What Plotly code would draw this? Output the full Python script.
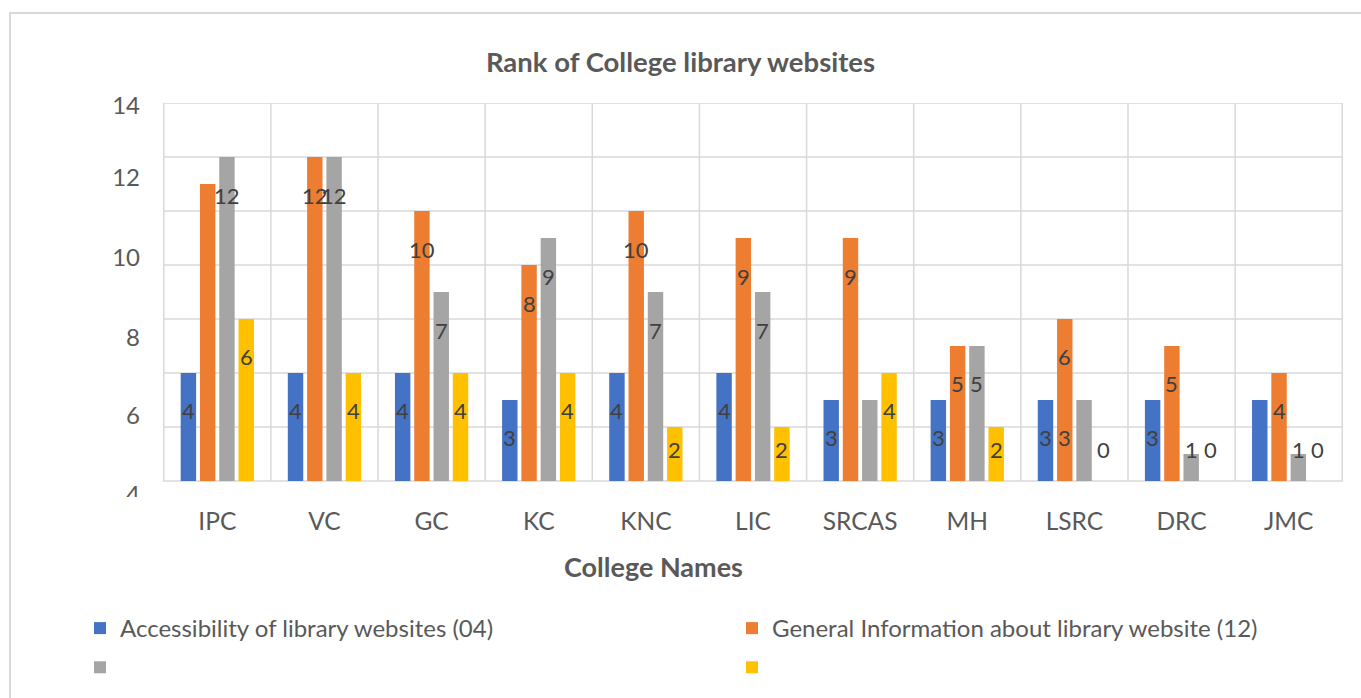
import plotly.graph_objects as go

# ---------------- data ----------------
colleges = ["IPC", "VC", "GC", "KC", "KNC", "LIC", "SRCAS", "MH", "LSRC", "DRC", "JMC"]

series_names = [
    "Accessibility of library websites (04)",
    "General Information about library website (12)",
    " ",
    "  ",
]
accessibility = [4, 4, 4, 3, 4, 4, 3, 3, 3, 3, 3]
general_info = [11, 12, 10, 8, 10, 9, 9, 5, 6, 5, 4]
series3 = [12, 12, 7, 9, 7, 7, 3, 5, 3, 1, 1]
series4 = [6, 4, 4, 4, 2, 2, 4, 2, 0, 0, 0]

# data labels as printed in the chart ("" = not shown)
accessibility_labels = ["4", "4", "4", "3", "4", "4", "3", "3", "3", "3", ""]
general_info_labels = ["", "12", "10", "8", "10", "9", "9", "5", "6", "5", "4"]
series3_labels = ["12", "12", "7", "9", "7", "7", "", "5", "3", "1", "1"]
series4_labels = ["6", "4", "4", "4", "2", "2", "4", "2", "0", "0", "0"]

y_tick_text = ["14", "12", "10", "8", "6", "4"]
x_title = "College Names"
chart_title = "Rank of College library websites"

# ---------------- style / layout ----------------
colors = ["#4472C4", "#ED7D31", "#A5A5A5", "#FFC000"]
legend_of_series = ["legend", "legend2", "legend", "legend2"]
W, H = 1361, 698
ML, MR, MT, MB = 163, 18, 103, 200
PW = W - ML - MR
PH = H - MT - MB
Y_MIN, Y_MAX = -0.63, 14
BARGAP = 0.28
TEXT = "#595959"
GRID = "#d9d9d9"
FONT = "Lato, 'Liberation Sans', sans-serif"

# tick label positions (the picture shows them shifted from the gridlines)
y_tick_pos = [13.89, 11.22, 8.26, 5.30, 2.44, -0.52]

values = [accessibility, general_info, series3, series4]
labels = [accessibility_labels, general_info_labels, series3_labels, series4_labels]
# one label in the picture sits over the neighbouring bar
label_slot_shift = {(2, "LSRC"): -1}

fig = go.Figure()
for i, (name, vals, col, lg) in enumerate(zip(series_names, values, colors, legend_of_series)):
    fig.add_trace(go.Bar(x=colleges, y=vals, name=name, legend=lg, legendgroup=f"g{i}",
                         marker=dict(color=col, line=dict(width=0))))

# gridlines (horizontal every 2, vertical at category boundaries)
shapes = []
for g in range(0, 15, 2):
    shapes.append(dict(type="line", xref="paper", yref="y", x0=0, x1=1, y0=g, y1=g,
                       line=dict(color=GRID, width=1.5), layer="below"))
for i in range(len(colleges) + 1):
    shapes.append(dict(type="line", xref="x", yref="y", x0=i - 0.5, x1=i - 0.5, y0=0, y1=14,
                       line=dict(color=GRID, width=1.5), layer="below"))

# outer chart border
px_to_xp = lambda px: (px - ML) / PW
px_to_yp = lambda py: (H - MB - py) / PH
shapes.append(dict(type="rect", xref="paper", yref="paper",
                   x0=px_to_xp(10), x1=px_to_xp(W + 40), y0=px_to_yp(H + 40), y1=px_to_yp(13),
                   line=dict(color=GRID, width=2), fillcolor="rgba(0,0,0,0)", layer="below"))
# the lowest tick label is cut off in the picture
shapes.append(dict(type="rect", xref="paper", yref="paper",
                   x0=px_to_xp(110), x1=px_to_xp(150), y0=px_to_yp(512), y1=px_to_yp(497),
                   line=dict(width=0), fillcolor="white", layer="above"))

# data labels
cat_w = PW / len(colleges)
pitch = cat_w * (1 - BARGAP) / 4
px_per_unit = PH / (Y_MAX - Y_MIN)
annotations = []
for k, (vals, labs) in enumerate(zip(values, labels)):
    for c, v, t in zip(colleges, vals, labs):
        if not t:
            continue
        slot = k + label_slot_shift.get((k, c), 0)
        ypos = max(v - 38 / px_per_unit, 31 / px_per_unit)
        annotations.append(dict(x=c, y=ypos, xref="x", yref="y", text=t, showarrow=False,
                                xshift=(slot - 1.5) * pitch, yanchor="middle", xanchor="center",
                                font=dict(family=FONT, size=22, color="#404040")))

# x-axis title (sits left of the plot centre in the picture)
annotations.append(dict(text=x_title, x=px_to_xp(653), y=px_to_yp(566), xref="paper", yref="paper",
                        showarrow=False, xanchor="center", yanchor="middle",
                        font=dict(family=FONT, size=27, color=TEXT, weight="bold")))

legend_common = dict(orientation="v", xref="container", yref="container",
                     xanchor="left", yanchor="top", tracegroupgap=5,
                     font=dict(family=FONT, size=24, color=TEXT), traceorder="grouped",
                     itemclick=False, bgcolor="rgba(0,0,0,0)")

fig.update_layout(
    width=W, height=H,
    margin=dict(l=ML, r=MR, t=MT, b=MB, autoexpand=False),
    paper_bgcolor="white", plot_bgcolor="rgba(0,0,0,0)",
    barmode="group", bargap=BARGAP, bargroupgap=0.2,
    title=dict(text=chart_title, x=0.5, xref="container", y=1 - 62 / H, yref="container",
               yanchor="middle", xanchor="center",
               font=dict(family=FONT, size=27.5, color=TEXT, weight="bold")),
    font=dict(family=FONT, color=TEXT),
    shapes=shapes,
    annotations=annotations,
    legend=dict(x=80 / W, y=1 - 606 / H, **legend_common),
    legend2=dict(x=732 / W, y=1 - 606 / H, **legend_common),
    showlegend=True,
    hovermode=False,
)
fig.update_xaxes(type="category", showgrid=False, showline=False, zeroline=False, ticks="",
                 tickfont=dict(family=FONT, size=24.5, color=TEXT), ticklabelstandoff=6)
fig.update_yaxes(range=[Y_MIN, Y_MAX], showgrid=False, zeroline=False, showline=False, ticks="",
                 tickmode="array", tickvals=y_tick_pos, ticktext=y_tick_text,
                 tickfont=dict(family=FONT, size=24, color=TEXT), ticklabelstandoff=22)

fig.write_html("out.html", config={"displayModeBar": False},
               post_script="document.body.style.margin='0';")
